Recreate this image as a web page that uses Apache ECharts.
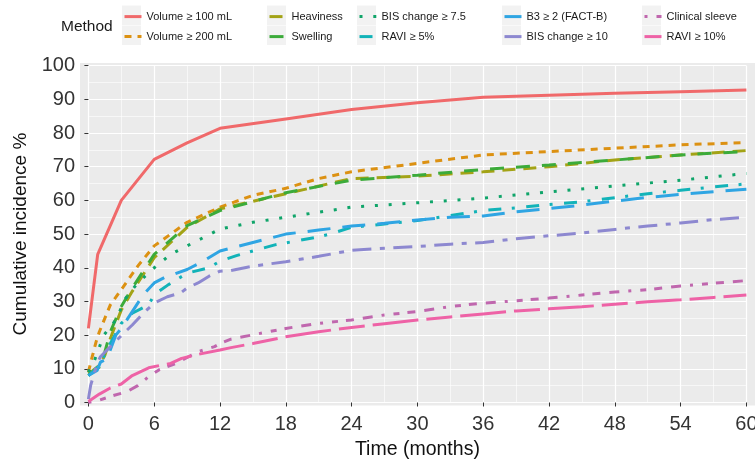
<!DOCTYPE html>
<html>
<head>
<meta charset="utf-8">
<script src="https://cdn.jsdelivr.net/npm/echarts@6/dist/echarts.min.js"></script>
<style>
html,body{margin:0;padding:0;background:#fff;}
#c{width:755px;height:463px;}
</style>
</head>
<body>
<div id="c"></div>
<script>
// ---- data (time in months, cumulative incidence %) ----
const methods = ['Volume ≥ 100 mL','Volume ≥ 200 mL','Heaviness','Swelling','BIS change ≥ 7.5','RAVI ≥ 5%','B3 ≥ 2 (FACT-B)','BIS change ≥ 10','Clinical sleeve','RAVI ≥ 10%'];
const xTicks = [0,6,12,18,24,30,36,42,48,54,60];
const yTicks = [0,10,20,30,40,50,60,70,80,90,100];

const vol100 = [[0,22],[0.85,44],[3,60],[6,72.2],[9,77.1],[12,81.4],[18,84.2],[24,87],[30,89],[36,90.6],[42,91.2],[48,91.8],[54,92.3],[60,92.8]];
const vol200 = [[0,9],[0.3,13],[0.7,18],[1,21],[2,29],[3,33.5],[4.5,40.5],[6,46.5],[9,53.5],[12,58],[15,61.5],[18,63.6],[21,66.5],[24,68.5],[30,71],[36,73.5],[42,74.5],[48,75.5],[54,76.5],[60,77.2]];
const heaviness = [[0,8.5],[1,11],[1.5,14],[2,19],[3,27.5],[4,33],[6,43],[9,52],[12,57.5],[18,62],[24,66.5],[30,67.2],[36,68.5],[42,70],[48,72],[54,73.5],[60,74.8]];
const swelling = [[0,8],[1,10.5],[1.5,15],[2,21],[3,28.5],[4,34],[6,44],[9,52.5],[12,57],[18,62.3],[24,66],[30,67.5],[36,69.2],[42,70.5],[48,72],[54,73.5],[60,74.5]];
const bis75 = [[0,9],[0.5,12],[1.4,20],[2.5,24.5],[3.4,31],[4.5,35.5],[6,40],[7.5,44],[9,46.5],[12,51.5],[15,53.5],[18,55],[21,56.5],[24,58],[30,59.3],[36,60.7],[42,62.5],[48,64.3],[54,66],[60,68]];
const ravi5 = [[0,8],[1,11],[2,17.5],[3,23.5],[4,26.5],[5.5,29],[6,32],[7.3,35],[9,38.4],[11,40],[12,42],[13.5,43.6],[15,45],[17,46.8],[19,48],[21,49.2],[22,50],[24,52],[27,53],[30,54],[33,55.5],[36,57],[39,57.8],[42,58.8],[45,59.6],[48,60.8],[51,62],[54,63],[57,64],[60,64.9]];
const b3 = [[0,8],[0.8,9.5],[1.1,12],[1.7,13],[2.5,20],[3,22],[4,27],[5,32],[6,35.5],[7,37.2],[9,39.5],[10.5,42],[12,45],[15,47.5],[18,50],[21,51.2],[24,52.4],[27,53.2],[30,54.2],[33,55],[36,55.4],[39,56.6],[42,57.6],[45,58.6],[48,59.8],[51,60.9],[54,61.8],[57,62.6],[60,63.3]];
const bis10 = [[0,1],[0.2,5],[0.8,11.7],[1.1,13.6],[2,16.6],[3.2,20.5],[4,23],[5,26.5],[6,29.5],[7.2,31.4],[8.4,32.5],[9,34],[10,35.5],[11,37.5],[12,39],[13,39.2],[15,40.5],[18,41.8],[21,43.4],[24,45.2],[27,45.8],[30,46.3],[33,47],[36,47.5],[39,48.6],[42,49.5],[45,50.3],[48,51.4],[51,52.4],[54,53.3],[57,54.3],[60,55]];
const sleeve = [[0,0],[1,0.7],[2,1.8],[3.5,3.2],[4.5,5],[5.5,7.7],[6.5,9.8],[8,11.6],[10,15.1],[11.5,16.6],[12,17.5],[13,18.8],[15,20.1],[18,22],[21,23.5],[24,24.5],[27,26],[30,27],[33,28.5],[36,29.5],[39,30.2],[42,31],[45,31.9],[48,32.8],[51,33.5],[54,34.6],[57,35.4],[60,36.2]];
const ravi10 = [[0,0.3],[1,2.5],[2,4.3],[3,5.5],[4,8],[5.5,10.3],[6.5,11],[7.5,11.6],[8.5,13.1],[10,14.3],[12,15.6],[13,16.3],[15,17.5],[18,19.5],[21,21],[24,22.3],[27,23.4],[30,24.5],[33,25.4],[36,26.3],[39,27.2],[42,27.8],[45,28.4],[48,29.2],[51,29.9],[54,30.5],[57,31.2],[60,31.9]];

const seriesData = [vol100, vol200, heaviness, swelling, bis75, ravi5, b3, bis10, sleeve, ravi10];

// ---- styles ----
const colors = ['#F0696A','#DC9112','#A3A316','#3CAB3A','#10A56A','#12B3B8','#2FA5E3','#8D88D0','#C067AE','#EE62A6'];
const dashes = ['solid',[7,6],[13,8],[14,12],[3,10.8],[13,10.5,3,11.5],[23,12],[19,8.5,5,8.5],[3,9,6,8,8,9,10,9],[26,8,46,8]];
const FONT = '"Liberation Sans", Arial, Helvetica, sans-serif';

const G = {left:88.4, right:8.6, top:65.7, bottom:60.5};
const legendCols = [123, 268, 358, 503, 643];
const legendRows = [11, 31];

const chart = echarts.init(document.getElementById('c'), null, {renderer:'canvas'});

const graphicEls = [{
  type:'rect', z:-10, silent:true,
  shape:{x:80, y:63, width:675, height:342.5},
  style:{fill:'#EBEBEB'}
}];
legendCols.forEach(function(L){
  graphicEls.push({type:'rect', z:-1, silent:true, shape:{x:L-1, y:5.5, width:19, height:19.5}, style:{fill:'#F2F2F2'}});
  graphicEls.push({type:'rect', z:-1, silent:true, shape:{x:L-1, y:25.5, width:19, height:19.5}, style:{fill:'#F2F2F2'}});
});

const legends = [];
methods.forEach(function(m, i){
  legends.push({
    left:legendCols[Math.floor(i/2)], top:legendRows[i%2], orient:'horizontal', padding:0,
    itemWidth:17, itemHeight:14, itemGap:0,
    selectedMode:false,
    data:[m],
    itemStyle:{color:'transparent', borderColor:'transparent', borderWidth:0, opacity:0},
    lineStyle:{width:3},
    textStyle:{fontSize:11, color:'#1a1a1a', fontFamily:FONT}
  });
});

const option = {
  animation:false,
  backgroundColor:'#ffffff',
  title:{text:'Method', left:61, top:18.5, padding:0,
    textStyle:{fontSize:15.5, fontWeight:'normal', color:'#1a1a1a', fontFamily:FONT}},
  legend:legends,
  graphic:graphicEls,
  grid:{left:G.left, right:G.right, top:G.top, bottom:G.bottom, containLabel:false, outerBoundsMode:'none'},
  xAxis:{
    type:'value', min:xTicks[0], max:xTicks[xTicks.length-1], interval:6,
    offset:3,
    name:'Time (months)', nameLocation:'middle', nameGap:33,
    nameTextStyle:{fontSize:19.5, color:'#111', fontFamily:FONT},
    axisLine:{show:false},
    axisTick:{show:true, length:4, lineStyle:{color:'#333', width:1}},
    axisLabel:{fontSize:20, color:'#333', margin:9, fontFamily:FONT, showMinLabel:true, showMaxLabel:true, hideOverlap:false},
    splitLine:{show:true, lineStyle:{color:'#ffffff', width:1.2}},
    minorTick:{show:false, splitNumber:2},
    minorSplitLine:{show:true, lineStyle:{color:'#ffffff', width:0.6}}
  },
  yAxis:{
    type:'value', min:yTicks[0], max:yTicks[yTicks.length-1], interval:10,
    offset:8.4,
    name:'Cumulative incidence %', nameLocation:'middle', nameGap:48, nameRotate:90,
    nameTextStyle:{fontSize:19, color:'#111', fontFamily:FONT},
    axisLine:{show:false},
    axisTick:{show:true, length:4, lineStyle:{color:'#333', width:1}},
    axisLabel:{fontSize:20, color:'#333', margin:5, fontFamily:FONT, showMinLabel:true, showMaxLabel:true},
    splitLine:{show:true, lineStyle:{color:'#ffffff', width:1.2}},
    minorTick:{show:false, splitNumber:2},
    minorSplitLine:{show:true, lineStyle:{color:'#ffffff', width:0.6}}
  },
  series: seriesData.map(function(d, i){
    return {
      name:methods[i], type:'line', data:d,
      showSymbol:false, symbol:'none', smooth:false,
      color:colors[i],
      lineStyle:{width:3, color:colors[i], type:dashes[i], cap:'butt'},
      emphasis:{disabled:true},
      z:2+i
    };
  })
};
chart.setOption(option);
</script>
</body>
</html>
